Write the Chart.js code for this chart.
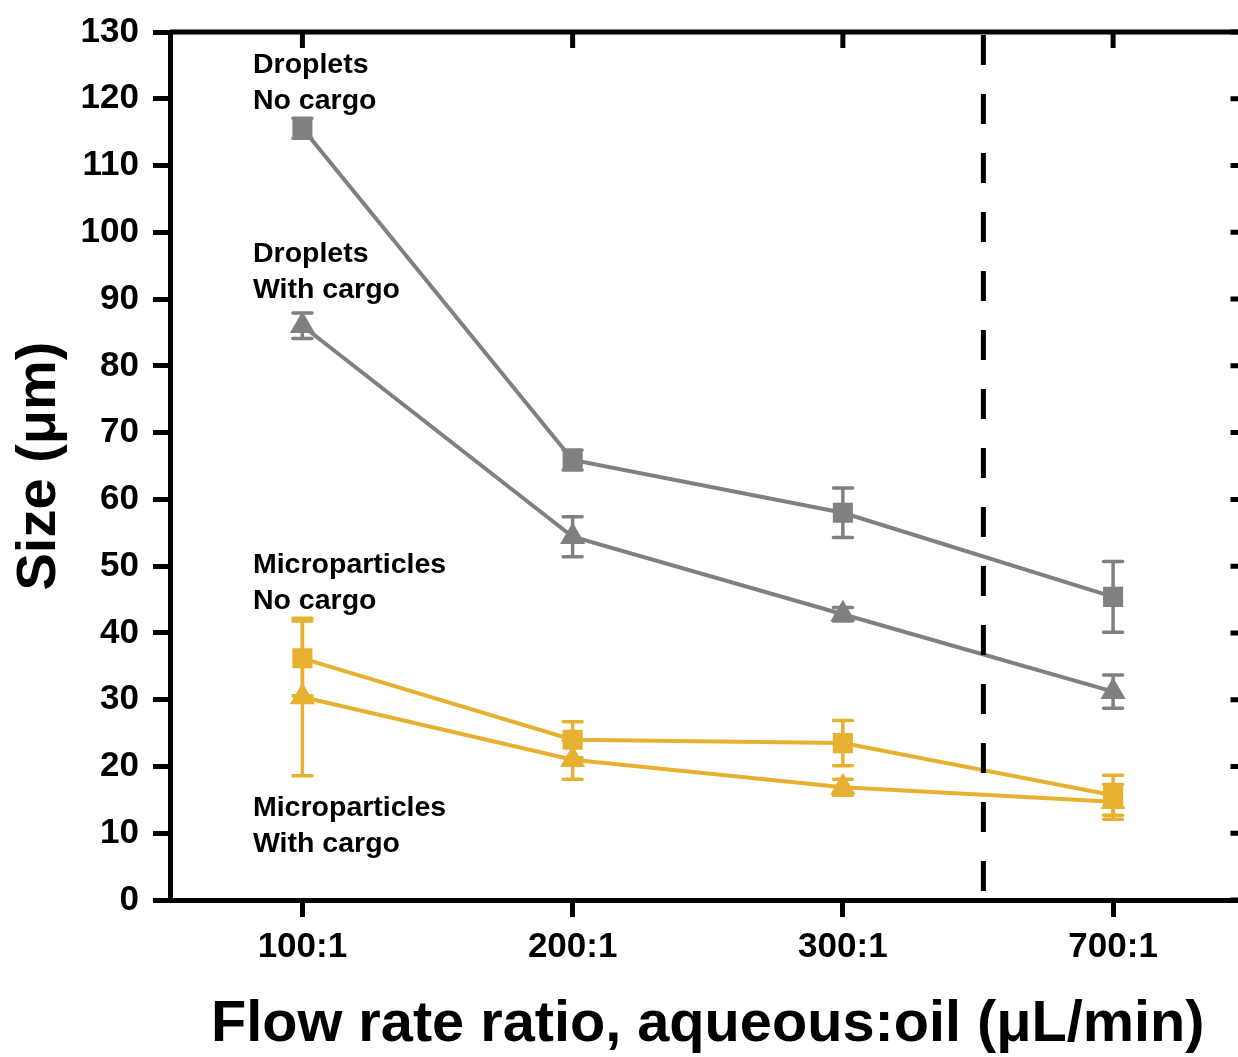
<!DOCTYPE html>
<html>
<head>
<meta charset="utf-8">
<script src="https://cdn.jsdelivr.net/npm/chart.js@4.4.1/dist/chart.umd.min.js"></script>
<style>
  html, body { margin: 0; padding: 0; overflow: hidden; background: #fff; }
  #wrap { position: absolute; left: 0; top: 0; width: 1260px; height: 1057px; }
</style>
</head>
<body>
<div id="wrap"><canvas id="can" width="1260" height="1057"></canvas></div>
<script>
// data
var categories = ['100:1', '200:1', '300:1', '700:1'];

var dropletsNoCargo = [115.6, 65.9, 58.0, 45.4];
var dropletsNoCargoErr = [1.5, 1.5, 3.7, 5.3];

var dropletsCargo = [86.0, 54.4, 42.8, 31.2];
var dropletsCargoErr = [1.9, 3.0, 1.0, 2.5];

var microNoCargo = [36.2, 24.0, 23.5, 15.7];
var microNoCargoErr = [5.6, 2.7, 3.4, 3.0];

var microCargo = [30.4, 21.0, 16.9, 14.7];
var microCargoErr = [11.8, 2.9, 1.2, 2.6];

var yTicks = [0, 10, 20, 30, 40, 50, 60, 70, 80, 90, 100, 110, 120, 130];

var noteLines = [
    ['Droplets', 'No cargo'],
    ['Droplets', 'With cargo'],
    ['Microparticles', 'No cargo'],
    ['Microparticles', 'With cargo']
];

var dividerAt = 2.52; // dashed line between 300:1 and 700:1

var grey = '#808080';
var gold = '#e8b030';
var fontFam = '"Liberation Sans", Arial, sans-serif';

function pts(vals) {
    return vals.map(function (v, i) { return {x: i, y: v}; });
}

function series(label, vals, errs, color, shape, r) {
    return {
        label: label,
        data: pts(vals),
        errors: errs,
        borderColor: color,
        backgroundColor: color,
        borderWidth: 4,
        pointStyle: shape,
        pointRadius: r,
        pointHoverRadius: r,
        pointBorderWidth: 0,
        pointBackgroundColor: color,
        tension: 0
    };
}

var errorBars = {
    id: 'errorBars',
    beforeDatasetsDraw: function (chart) {
        var ctx = chart.ctx;
        var ys = chart.scales.y, xs = chart.scales.x;
        chart.data.datasets.forEach(function (ds) {
            ctx.save();
            ctx.strokeStyle = ds.borderColor;
            ctx.lineWidth = 3.5;
            ctx.lineCap = 'round';
            ds.data.forEach(function (p, i) {
                var e = ds.errors[i];
                var px = xs.getPixelForValue(p.x);
                var top = ys.getPixelForValue(p.y + e);
                var bot = ys.getPixelForValue(p.y - e);
                ctx.beginPath();
                ctx.moveTo(px, top); ctx.lineTo(px, bot);
                ctx.moveTo(px - 9.5, top); ctx.lineTo(px + 9.5, top);
                ctx.moveTo(px - 9.5, bot); ctx.lineTo(px + 9.5, bot);
                ctx.stroke();
            });
            ctx.restore();
        });
    }
};

var frame = {
    id: 'frame',
    afterDraw: function (chart) {
        var ctx = chart.ctx;
        var a = chart.chartArea;
        var xs = chart.scales.x, ys = chart.scales.y;
        ctx.save();
        // dashed divider
        var dx = xs.getPixelForValue(dividerAt);
        ctx.strokeStyle = '#000';
        ctx.lineWidth = 5;
        ctx.setLineDash([30, 29]);
        ctx.beginPath();
        ctx.moveTo(dx, a.top + 3);
        ctx.lineTo(dx, a.bottom);
        ctx.stroke();
        ctx.setLineDash([]);
        // top and right lines
        ctx.beginPath();
        ctx.moveTo(a.left, a.top); ctx.lineTo(a.right, a.top);
        ctx.moveTo(a.right, a.top); ctx.lineTo(a.right, a.bottom);
        ctx.stroke();
        // inward ticks
        ctx.beginPath();
        categories.forEach(function (c, i) {
            var px = xs.getPixelForValue(i);
            ctx.moveTo(px, a.top); ctx.lineTo(px, a.top + 16);
        });
        yTicks.forEach(function (v) {
            var py = ys.getPixelForValue(v);
            ctx.moveTo(a.right, py); ctx.lineTo(a.right - 15, py);
        });
        ctx.stroke();
        // notes
        ctx.fillStyle = '#000';
        ctx.font = 'bold 28.5px ' + fontFam;
        ctx.textAlign = 'left';
        ctx.textBaseline = 'alphabetic';
        var anchors = [123.9, 95.6, 49.0, 12.6];
        var lx = xs.getPixelForValue(-0.183);
        noteLines.forEach(function (lines, k) {
            var by = ys.getPixelForValue(anchors[k]);
            lines.forEach(function (t, j) {
                ctx.fillText(t, lx, by + j * 36);
            });
        });
        ctx.restore();
    }
};

var ctx = document.getElementById('can').getContext('2d');

window.myChart = new Chart(ctx, {
    type: 'line',
    data: {
        datasets: [
            series('Droplets, no cargo', dropletsNoCargo, dropletsNoCargoErr, grey, 'rect', 14.2),
            series('Droplets, with cargo', dropletsCargo, dropletsCargoErr, grey, 'triangle', 14.5),
            series('Microparticles, no cargo', microNoCargo, microNoCargoErr, gold, 'rect', 14.2),
            series('Microparticles, with cargo', microCargo, microCargoErr, gold, 'triangle', 14.5)
        ]
    },
    options: {
        responsive: false,
        animation: false,
        layout: { padding: { top: 32, right: 5, left: 0, bottom: 0 } },
        plugins: {
            legend: { display: false },
            tooltip: { enabled: false }
        },
        scales: {
            x: {
                type: 'linear',
                min: -0.49,
                max: 3.49,
                afterBuildTicks: function (scale) {
                    scale.ticks = categories.map(function (c, i) { return {value: i}; });
                },
                afterFit: function (scale) {
                    scale.height = 157;
                    scale.paddingLeft = 0;
                    scale.paddingRight = 0;
                },
                ticks: {
                    color: '#000',
                    font: { family: fontFam, size: 35, weight: 'bold' },
                    padding: 9,
                    maxRotation: 0,
                    callback: function (v) { return categories[v]; }
                },
                grid: {
                    drawOnChartArea: false,
                    drawTicks: true,
                    tickLength: 17,
                    tickWidth: 5,
                    tickColor: '#000'
                },
                border: { display: true, color: '#000', width: 5 },
                title: {
                    display: true,
                    text: 'Flow rate ratio, aqueous:oil (μL/min)',
                    color: '#000',
                    font: { family: fontFam, size: 57.7, weight: 'bold', lineHeight: 1.12 },
                    padding: { top: 0, bottom: 0 }
                }
            },
            y: {
                min: 0,
                max: 130,
                afterBuildTicks: function (scale) {
                    scale.ticks = yTicks.map(function (v) { return {value: v}; });
                },
                afterFit: function (scale) {
                    scale.width = 170;
                    scale.paddingTop = 0;
                    scale.paddingBottom = 0;
                },
                ticks: {
                    color: '#000',
                    font: { family: fontFam, size: 35, weight: 'bold' },
                    padding: 14
                },
                grid: {
                    drawOnChartArea: false,
                    drawTicks: true,
                    tickLength: 17,
                    tickWidth: 5,
                    tickColor: '#000'
                },
                border: { display: true, color: '#000', width: 5 },
                title: {
                    display: true,
                    text: 'Size (μm)',
                    color: '#000',
                    font: { family: fontFam, size: 56, weight: 'bold', lineHeight: 1.13 },
                    padding: { top: 8, bottom: 0 }
                }
            }
        }
    },
    plugins: [errorBars, frame]
});
</script>
</body>
</html>
